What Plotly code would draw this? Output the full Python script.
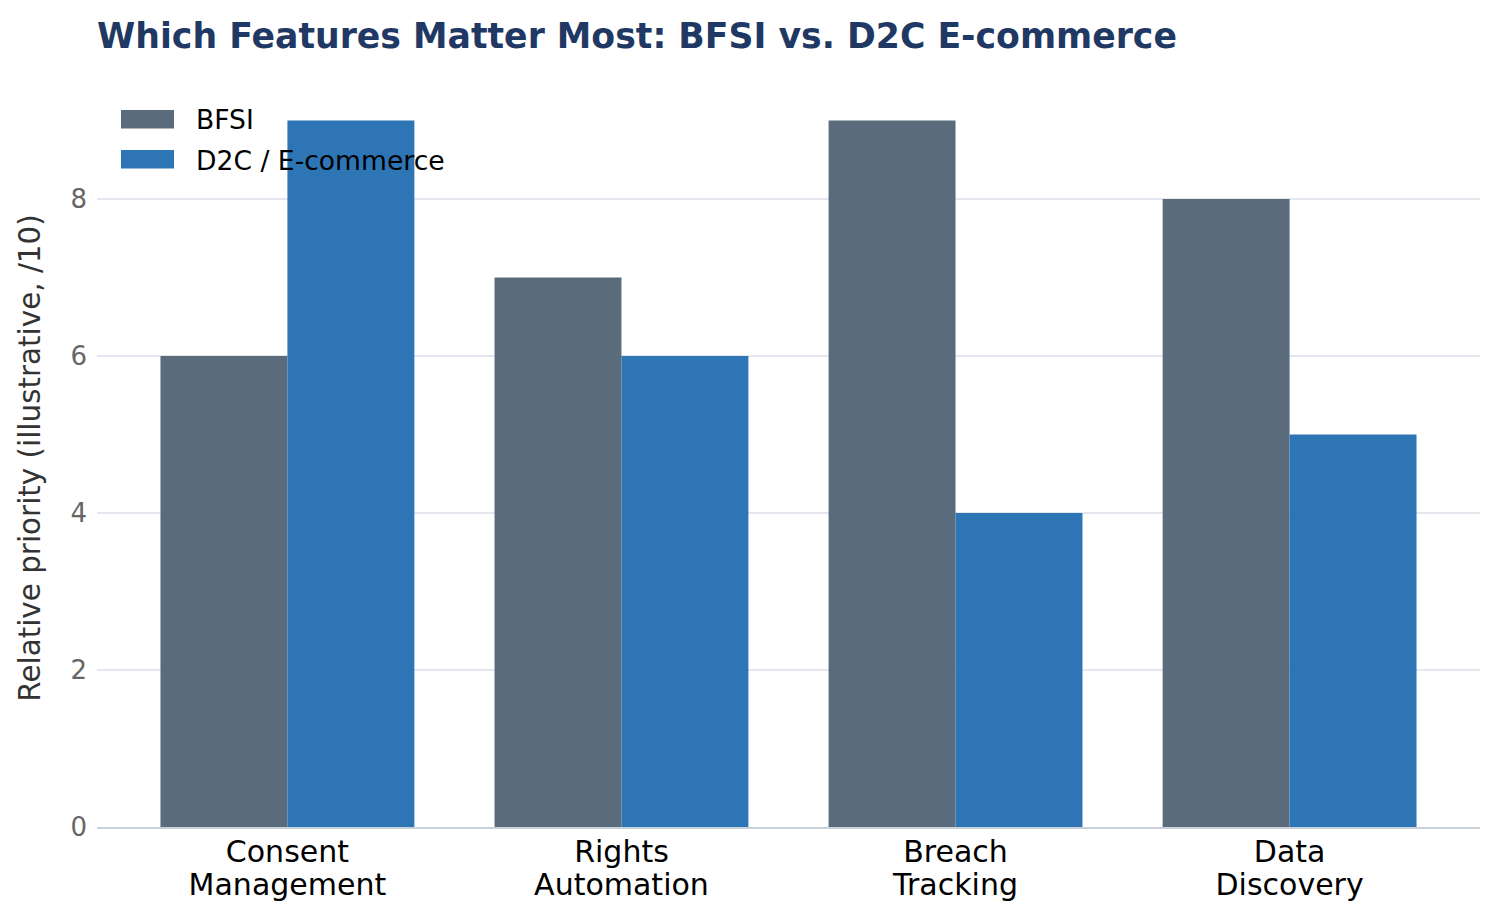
import plotly.graph_objects as go

# feature categories and illustrative priority scores (/10)
features = ["Consent Management", "Rights Automation", "Breach Tracking", "Data Discovery"]
label_top = ["Consent", "Rights", "Breach", "Data"]
label_bottom = ["Management", "Automation", "Tracking", "Discovery"]
bfsi = [6, 7, 9, 8]
d2c = [9, 6, 4, 5]
series_names = ["BFSI", "D2C / E-commerce"]
series_colors = ["#5a6b7b", "#2e75b6"]

FONT = "DejaVu Sans"
W, H = 1500, 919
L, R, T, B = 89, 28, 81, 100
XR = [-0.57, 3.57]


def px_x(p):
    return (p - L) / (W - L - R)


def px_y(p):
    return 1 - (p - T) / (H - T - B)


fig = go.Figure()
for name, vals, col in zip(series_names, [bfsi, d2c], series_colors):
    fig.add_trace(go.Bar(x=features, y=vals, name=name, marker_color=col,
                         marker_line_width=0, showlegend=False))
# empty trace so the overlay axis (second label line) gets drawn
fig.add_trace(go.Scatter(x=[], y=[], xaxis="x2", yaxis="y", showlegend=False,
                         hoverinfo="skip"))

# hand-drawn legend with wide swatches
for i, (name, col) in enumerate(zip(series_names, series_colors)):
    top = 102 + i * 40
    fig.add_shape(type="rect", xref="paper", yref="paper",
                  x0=px_x(113), x1=px_x(166), y0=px_y(top), y1=px_y(top + 18.5),
                  fillcolor=col, line_width=0)
    fig.add_annotation(xref="paper", yref="paper", x=px_x(186), y=px_y(top + 10),
                       text=name, showarrow=False, xanchor="left", yanchor="middle",
                       font=dict(size=26.6, color="#000"))

fig.update_layout(
    width=W, height=H,
    barmode="group", bargap=0.24, bargroupgap=0,
    plot_bgcolor="white", paper_bgcolor="white",
    font=dict(family=FONT, color="#000"),
    margin=dict(l=L, r=R, t=T, b=B),
    title=dict(text="<b>Which Features Matter Most: BFSI vs. D2C E-commerce</b>",
               x=L/W, xanchor="left", y=1 - 28/H, yanchor="middle",
               font=dict(family=FONT, size=34.7, color="#1f3864")),
    xaxis=dict(range=XR, showgrid=False, showline=True,
               linecolor="#c8d0da", linewidth=2, ticks="",
               tickvals=features, ticktext=label_top, ticklabelstandoff=-3,
               tickfont=dict(size=30, color="#000")),
    # second line of the category labels, tighter than <br> spacing
    xaxis2=dict(range=XR, overlaying="x", side="bottom", anchor="y",
                showgrid=False, showline=False, zeroline=False, ticks="",
                tickvals=list(range(len(features))), ticktext=label_bottom,
                ticklabelstandoff=37, tickfont=dict(size=30, color="#000")),
    yaxis=dict(range=[0, 9.4], tickvals=[0, 2, 4, 6, 8], showgrid=True,
               gridcolor="#e5e7ef", gridwidth=2, zeroline=False, showline=False,
               ticks="", ticklen=0, ticklabelstandoff=9,
               tickfont=dict(size=26, color="#666"),
               title=dict(text="Relative priority (illustrative, /10)",
                          font=dict(size=29.4, color="#333"), standoff=21)),
)

fig.write_html("out.html")
